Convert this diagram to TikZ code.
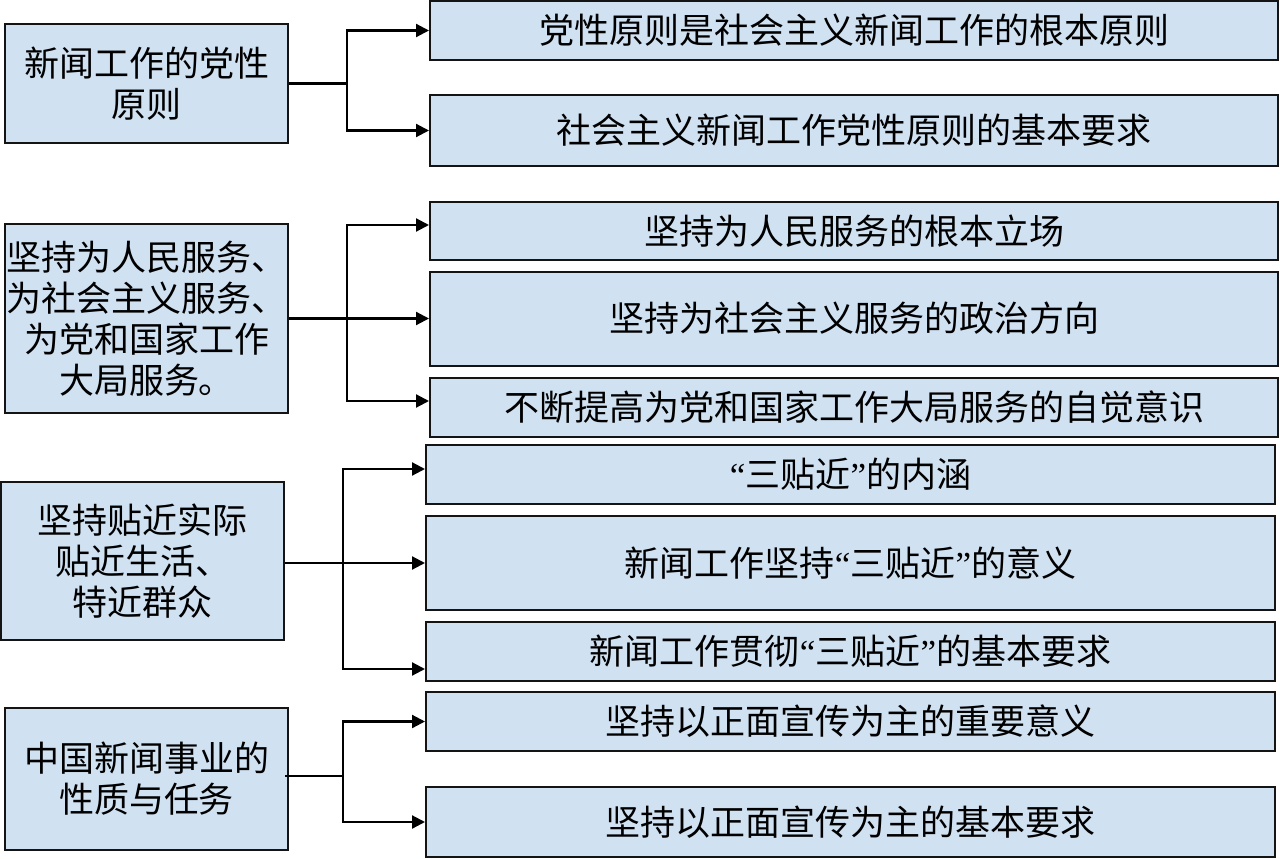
\documentclass[tikz,border=0pt]{standalone}
\usepackage{fontspec}
\newfontfamily\cjk{Noto Sans CJK SC}
\newfontfamily\lat{Liberation Serif}
\newcommand{\myLQ}{{\lat “}}
\newcommand{\myRQ}{{\lat ”}}
\usetikzlibrary{arrows.meta}
\definecolor{boxfill}{RGB}{208,225,242}
\definecolor{boxline}{RGB}{20,20,20}
\begin{document}
\begin{tikzpicture}[x=1pt,y=-1pt,
  box/.style={draw=boxline, fill=boxfill, line width=2pt, inner sep=0pt, align=center,
    font=\cjk\fontsize{35}{41}\selectfont},
  conn/.style={line width=2.2pt, draw=black},
  arr/.style={conn, -{Triangle[length=13pt,width=13pt]}}]
\useasboundingbox (0,0) rectangle (1280,859);
% left boxes
\node[box, minimum width=283pt, minimum height=119pt] (L1) at (146.5,83.5) {新闻工作的党性\\原则};
\node[box, minimum width=283pt, minimum height=189pt] (L2) at (146.5,318.5) {坚持为人民服务、\\为社会主义服务、\\为党和国家工作\\大局服务。};
\node[box, minimum width=283pt, minimum height=158pt] (L3) at (142.5,561) {坚持贴近实际\\贴近生活、\\特近群众};
\node[box, minimum width=283pt, minimum height=142pt] (L4) at (146.5,779) {中国新闻事业的\\性质与任务};
% right boxes
\node[box, minimum width=848pt, minimum height=59pt] (R1) at (854,30.5) {党性原则是社会主义新闻工作的根本原则};
\node[box, minimum width=848pt, minimum height=71pt] (R2) at (854,130.5) {社会主义新闻工作党性原则的基本要求};
\node[box, minimum width=848pt, minimum height=58pt] (R3) at (854,231) {坚持为人民服务的根本立场};
\node[box, minimum width=848pt, minimum height=94pt] (R4) at (854,318.5) {坚持为社会主义服务的政治方向};
\node[box, minimum width=848pt, minimum height=59pt] (R5) at (854,407.5) {不断提高为党和国家工作大局服务的自觉意识};
\node[box, minimum width=849pt, minimum height=59pt] (R6) at (850.5,474.5) {\myLQ 三贴近\myRQ 的内涵};
\node[box, minimum width=849pt, minimum height=94pt] (R7) at (850.5,563) {新闻工作坚持\myLQ 三贴近\myRQ 的意义};
\node[box, minimum width=849pt, minimum height=59pt] (R8) at (850.5,651.5) {新闻工作贯彻\myLQ 三贴近\myRQ 的基本要求};
\node[box, minimum width=849pt, minimum height=59pt] (R9) at (850.5,721.5) {坚持以正面宣传为主的重要意义};
\node[box, minimum width=849pt, minimum height=70pt] (R10) at (850.5,822) {坚持以正面宣传为主的基本要求};
% branch points
\coordinate (b1) at (347,83.5);
\coordinate (b2) at (347,318.5);
\coordinate (b3) at (343,563);
\coordinate (b4) at (343,776);
% group 1
\draw[conn] (L1.east) -- (b1);
\draw[arr] (b1) |- (R1.west);
\draw[arr] (b1) |- (R2.west);
% group 2
\draw[conn] (L2.east) -- (b2);
\draw[arr] (b2) |- ([yshift=6pt]R3.west);
\draw[arr] (b2) -- (R4.west);
\draw[arr] (b2) |- ([yshift=6.5pt]R5.west);
% group 3
\draw[conn] ([yshift=-2pt]L3.east) -- (b3);
\draw[arr] (b3) |- ([yshift=5.5pt]R6.west);
\draw[arr] (b3) -- (R7.west);
\draw[arr] (b3) |- ([yshift=-17.5pt]R8.west);
% group 4
\draw[conn] ([xshift=-4pt,yshift=3pt]L4.east) -- (b4);
\draw[arr] (b4) |- (R9.west);
\draw[arr] (b4) |- (R10.west);
\end{tikzpicture}
\end{document}
